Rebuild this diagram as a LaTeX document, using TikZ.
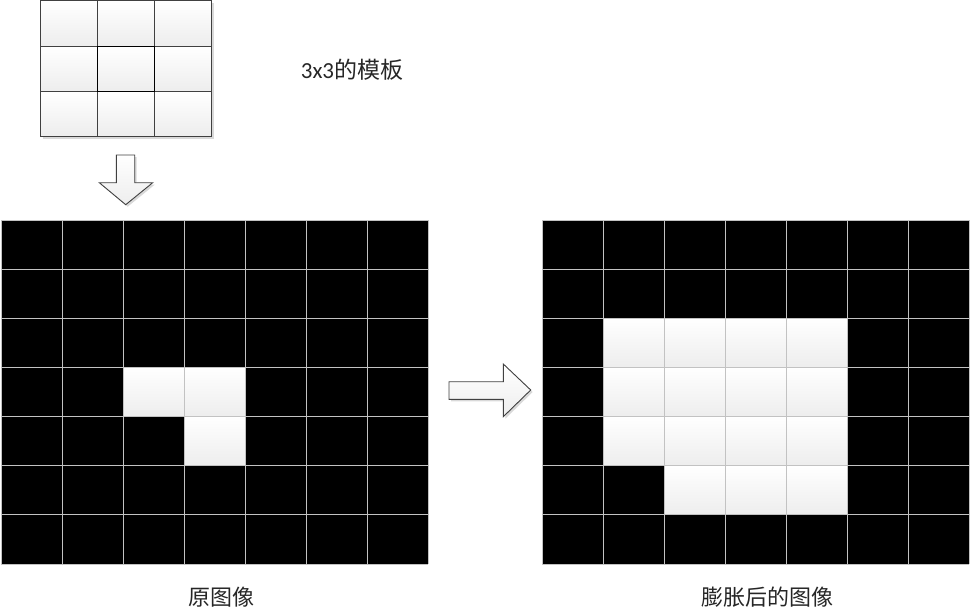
\documentclass[tikz,border=0pt]{standalone}
\usepackage{fontspec}
\setmainfont{Carlito}
\newfontfamily\cjk{Noto Sans CJK SC}
\tikzset{
  gridline/.style={draw=black!24, line width=0.9pt},
  tplcell/.style={draw=black!75, line width=0.9pt, top color=white, bottom color=black!7},
  wcellstyle/.style={top color=white, bottom color=black!7},
  blockarrow/.style={draw=black!75, line width=0.9pt, top color=white, bottom color=black!7},
  shadowstyle/.style={fill=black!15},
  lbl/.style={text=black!85, inner sep=0pt}
}
\newcommand\whitecell[3]{%
  \pgfmathsetmacro\cxa{#1+#3*61}%
  \pgfmathsetmacro\cya{220+#2*49.14}%
  \shade[wcellstyle] (\cxa,\cya) rectangle ++(61,49.14);%
}
\begin{document}
\begin{tikzpicture}[x=1pt,y=-1pt]
\useasboundingbox (0,0) rectangle (970,614);

% ---------- 3x3 template ----------
\fill[shadowstyle] (42.5,3) rectangle (213.5,138.5);
\foreach \c/\xa/\xb in {0/40/97.3,1/97.3/154.3,2/154.3/211}{
  \foreach \r/\ya/\yb in {0/0.7/46,1/46/91.3,2/91.3/136}{
    \path[tplcell] (\xa,\ya) rectangle (\xb,\yb);
  }
}
\draw[black, line width=1pt] (97.3,46) rectangle (154.3,91.3);
\node[lbl, font=\fontsize{23}{27}\selectfont] (tpl) at (352,70) {3x3{\cjk 的模板}};

% ---------- down arrow ----------
\fill[shadowstyle] (118.3,157) -- (136.7,157) -- (136.7,184.7) -- (154.7,184.7) -- (127.7,206.7) -- (101.3,184.7) -- (118.3,184.7) -- cycle;
\path[blockarrow] (116.3,155) -- (134.7,155) -- (134.7,182.7) -- (152.7,182.7) -- (125.7,204.7) -- (99.3,182.7) -- (116.3,182.7) -- cycle;

% ---------- original image ----------
\fill[black] (1,220) rectangle (428,564);
\whitecell{1}{3}{2}
\whitecell{1}{3}{3}
\whitecell{1}{4}{3}
\foreach \i in {0,...,7}{
  \draw[gridline] ({1+\i*61},220) -- ({1+\i*61},564);
  \draw[gridline] (1,{220+\i*49.14}) -- (428,{220+\i*49.14});
}
\node[lbl, font=\fontsize{22}{26}\selectfont\cjk] (orig) at (221,597) {原图像};

% ---------- right arrow ----------
\fill[shadowstyle] (451,383.7) -- (505.3,383.7) -- (505.3,366) -- (532.7,392) -- (505.3,418.7) -- (505.3,401.3) -- (451,401.3) -- cycle;
\path[blockarrow] (449,381.7) -- (503.3,381.7) -- (503.3,364) -- (530.7,390) -- (503.3,416.7) -- (503.3,399.3) -- (449,399.3) -- cycle;

% ---------- dilated image ----------
\fill[black] (542,220) rectangle (969,564);
\foreach \r in {2,3,4}{
  \foreach \c in {1,2,3,4}{
    \whitecell{542}{\r}{\c}
  }
}
\foreach \c in {2,3,4}{
  \whitecell{542}{5}{\c}
}
\foreach \i in {0,...,7}{
  \draw[gridline] ({542+\i*61},220) -- ({542+\i*61},564);
  \draw[gridline] (542,{220+\i*49.14}) -- (969,{220+\i*49.14});
}
\node[lbl, font=\fontsize{22}{26}\selectfont\cjk] (dil) at (767,597) {膨胀后的图像};
\end{tikzpicture}
\end{document}
